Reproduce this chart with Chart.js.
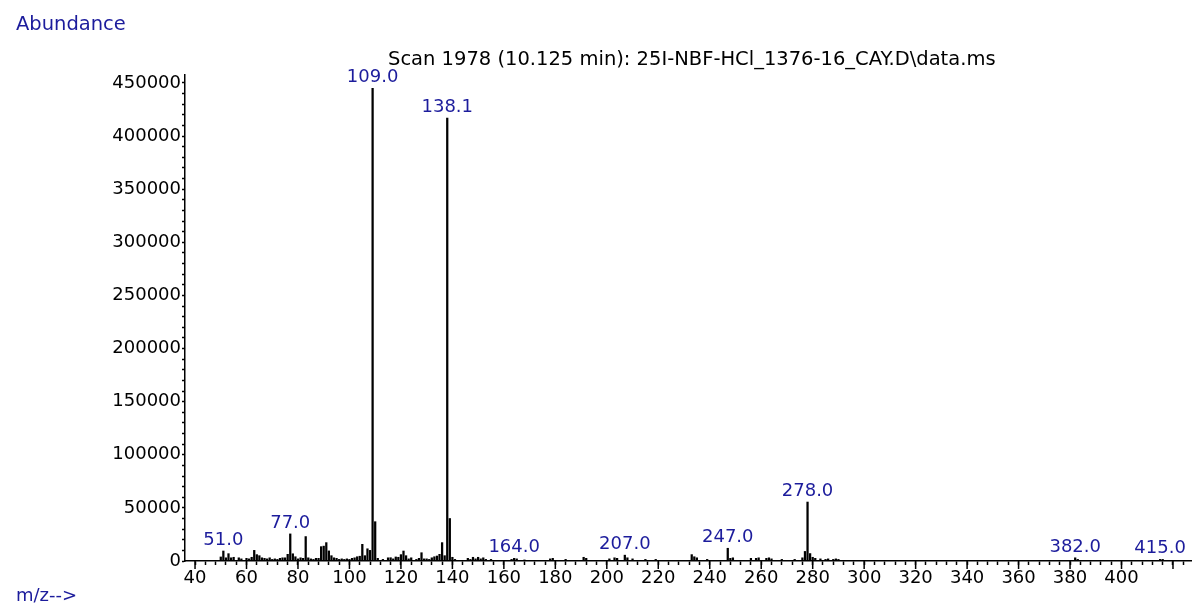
<!DOCTYPE html>
<html>
<head>
<meta charset="utf-8">
<script src="https://cdn.jsdelivr.net/npm/chart.js@4.4.0/dist/chart.umd.min.js"></script>
<style>
  html, body { margin: 0; padding: 0; background: #fff; }
  #wrap { position: relative; width: 1192px; height: 605px; overflow: hidden; }
  canvas { position: absolute; left: 0; top: 0; }
  .txt { position: absolute; font-family: "DejaVu Sans", sans-serif; white-space: nowrap; line-height: 1; }
  .blue { color: #1c1c9c; }
</style>
</head>
<body>
<div id="wrap">
  <canvas id="ms" width="1192" height="605"></canvas>
  <div class="txt blue" style="left:16px; top:14px; font-size:19.5px;">Abundance</div>
  <div class="txt" style="left:388px; top:49px; font-size:19.5px;">Scan 1978 (10.125 min): 25I-NBF-HCl_1376-16_CAY.D\data.ms</div>
  <div class="txt blue" style="left:16px; top:586px; font-size:18px;">m/z--&gt;</div>
</div>
<script>
// m/z of every stick and its abundance
const mz = [
  50, 51, 52, 53, 54, 55, 57, 58, 60, 61, 62, 63, 64, 65, 66, 67, 68, 69, 70,
  71, 72, 73, 74, 75, 76, 77, 78, 79, 80, 81, 82, 83, 84, 85, 86, 87, 88, 89, 90,
  91, 92, 93, 94, 95, 96, 97, 98, 99, 100, 101, 102, 103, 104, 105, 106, 107, 108,
  109, 110, 111, 113, 115, 116, 117, 118, 119, 120, 121, 122, 123, 124, 126, 127,
  128, 129, 130, 131, 132, 133, 134, 135, 136, 137, 138, 139, 140, 141,
  146, 147, 148, 149, 150, 151, 152, 153, 155, 163, 164, 165, 168, 178, 179, 184,
  191, 192, 201, 203, 204, 207, 208, 210, 215, 219, 233, 234, 235, 239,
  247, 248, 249, 256, 258, 259, 262, 263, 264, 268, 273, 276, 277, 278, 279,
  280, 281, 283, 285, 286, 288, 289, 290, 382, 383, 415, 416
];
const abundance = [
  3800, 9400, 3000, 6900, 3000, 3500, 3000, 2000, 2500, 2000, 3500, 10000, 6000, 5000, 3000, 2500, 2000, 3000, 1500,
  2000, 1500, 2500, 3000, 3000, 6300, 25500, 6800, 4000, 2000, 3000, 2500, 23000, 3000, 2000, 1500, 2500, 2500, 13500, 14000,
  17300, 9500, 5000, 3000, 2500, 1500, 2000, 1500, 2000, 1500, 2500, 3000, 4000, 4500, 15700, 5000, 11500, 10000,
  445000, 37000, 2500, 1500, 3000, 3100, 2000, 3800, 3500, 6000, 9400, 5000, 2000, 3000, 1500, 2500,
  7800, 2000, 2000, 1500, 3000, 4000, 4700, 6300, 17300, 5000, 417000, 40000, 3500, 1500,
  2500, 1500, 3500, 2000, 3500, 2000, 3000, 1500, 1500, 1500, 2500, 2000, 1000, 2000, 2500, 1500,
  3500, 2500, 2000, 3000, 2500, 5500, 3000, 2000, 1500, 1500, 6000, 4000, 3000, 1500,
  12000, 2500, 3000, 2500, 2500, 3000, 2500, 3000, 2000, 1500, 1500, 3000, 9000, 55500, 7000,
  3500, 2500, 2000, 1500, 2000, 1500, 2000, 1500, 3000, 1500, 1500, 1500
];

// labelled peaks
const labelMz = [51, 77, 109, 138, 164, 207, 247, 278, 382, 415];
const labelText = ['51.0', '77.0', '109.0', '138.1', '164.0', '207.0', '247.0', '278.0', '382.0', '415.0'];

// x axis: labelled every 20 up to 400, small tick every 4
const xLabelStep = 20;
const xLastLabel = 400;

// y axis: labelled every 50000, small tick every 10000
const yLabelStep = 50000;
const yTickStep = 10000;
const yMax = 457500;
const yTicks = [];
for (let v = 0; v <= yMax; v += yTickStep) yTicks.push(v);

const LABEL_BLUE = '#1c1c9c';

const peakLabels = {
  id: 'peakLabels',
  afterDatasetsDraw(chart) {
    const { ctx, scales: { x, y } } = chart;
    ctx.save();
    ctx.font = '18px "DejaVu Sans"';
    ctx.fillStyle = LABEL_BLUE;
    ctx.textAlign = 'center';
    ctx.textBaseline = 'alphabetic';
    labelMz.forEach((m, i) => {
      const v = abundance[mz.indexOf(m)];
      const w = ctx.measureText(labelText[i]).width;
      let px = x.getPixelForValue(m);
      px = Math.min(px, chart.width - w / 2 - 2);
      ctx.fillText(labelText[i], px, y.getPixelForValue(v) - 6);
    });
    ctx.restore();
  }
};

// longer tick marks every 20 m/z
const majorTicks = {
  id: 'majorTicks',
  afterDraw(chart) {
    const { ctx, scales: { x } } = chart;
    ctx.save();
    ctx.strokeStyle = '#000';
    ctx.lineWidth = 1.5;
    x.ticks.forEach(t => {
      if (t.value % xLabelStep !== 0) return;
      const px = x.getPixelForValue(t.value);
      ctx.beginPath();
      ctx.moveTo(px, x.top);
      ctx.lineTo(px, x.top + 8);
      ctx.stroke();
    });
    ctx.restore();
  }
};

new Chart(document.getElementById('ms'), {
  type: 'bar',
  data: {
    datasets: [{
      data: mz.map((m, i) => ({ x: m, y: abundance[i] })),
      backgroundColor: '#000',
      borderWidth: 0,
      barThickness: 1.6
    }]
  },
  options: {
    responsive: false,
    animation: false,
    devicePixelRatio: 1,
    layout: { padding: { top: 75, right: 1, left: 0, bottom: 0 } },
    plugins: { legend: { display: false }, tooltip: { enabled: false } },
    scales: {
      x: {
        type: 'linear',
        min: 36.1,
        max: 427,
        offset: false,
        grid: { display: true, drawOnChartArea: false, drawTicks: true, tickLength: 4, tickColor: '#000', tickWidth: 1.5, offset: false },
        border: { display: true, color: '#000', width: 1.5 },
        ticks: {
          stepSize: 4,
          includeBounds: false,
          autoSkip: false,
          maxRotation: 0,
          minRotation: 0,
          padding: 3,
          color: '#000',
          font: { family: 'DejaVu Sans', size: 18 },
          callback: v => (v % xLabelStep === 0 && v <= xLastLabel ? String(v) : '')
        },
        afterFit: s => { s.height = 44; }
      },
      y: {
        min: 0,
        max: yMax,
        grid: { display: true, drawOnChartArea: false, drawTicks: true, tickLength: 3, tickColor: '#000', tickWidth: 1.5 },
        border: { display: true, color: '#000', width: 1.5 },
        afterBuildTicks: s => { s.ticks = yTicks.map(v => ({ value: v })); },
        ticks: {
          autoSkip: false,
          padding: 1,
          color: '#000',
          font: { family: 'DejaVu Sans', size: 18 },
          callback: v => (v % yLabelStep === 0 ? String(v) : '')
        },
        afterFit: s => { s.width = 185; }
      }
    }
  },
  plugins: [peakLabels, majorTicks]
});
</script>
</body>
</html>
